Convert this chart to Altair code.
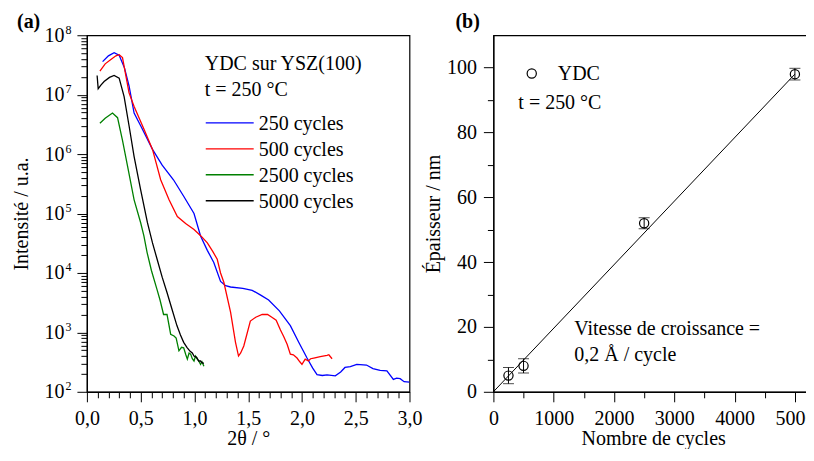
import altair as alt
import pandas as pd

FONT = "Liberation Serif"

# ---------------- panel (a): XRR curves ----------------
series_names = ["250 cycles", "500 cycles", "2500 cycles", "5000 cycles"]
series_colors = ["#0000ff", "#ff0000", "#008000", "#000000"]

x_250 = [0.146, 0.20, 0.253, 0.30, 0.35, 0.392, 0.439, 0.50, 0.61, 0.70, 0.805, 0.90, 0.996,
         1.057, 1.12, 1.18, 1.243, 1.29, 1.336, 1.45, 1.537, 1.62, 1.69, 1.79, 1.892, 1.97,
         2.047, 2.10, 2.14, 2.19, 2.233, 2.31, 2.36, 2.40, 2.45, 2.51, 2.60, 2.66, 2.727,
         2.79, 2.85, 2.88, 2.913, 2.95, 3.0]
i_250 = [3.6e7, 4.5e7, 5.1e7, 4.6e7, 2.8e7, 1.4e7, 4.9e6, 3.0e6, 1.2e6, 6.5e5, 3.7e5, 1.95e5, 1.0e5,
         4.2e4, 2.4e4, 1.5e4, 7.2e3, 6.1e3, 5.8e3, 5.5e3, 5.1e3, 4.2e3, 3.5e3, 2.3e3, 1.3e3, 680,
         370, 250, 195, 188, 193, 186, 215, 257, 265, 290, 282, 245, 229,
         225, 162, 170, 166, 148, 145]

x_500 = [0.121, 0.17, 0.223, 0.27, 0.30, 0.331, 0.36, 0.392, 0.439, 0.532, 0.61, 0.686, 0.764,
         0.841, 0.918, 0.996, 1.06, 1.12, 1.17, 1.212, 1.243, 1.274, 1.336, 1.382, 1.41, 1.43,
         1.459, 1.52, 1.57, 1.63, 1.68, 1.72, 1.76, 1.80, 1.83, 1.862, 1.892, 1.92, 1.954, 1.98,
         2.0, 2.03, 2.06, 2.08, 2.11, 2.17, 2.233, 2.25, 2.28]
i_500 = [2.5e7, 3.3e7, 3.9e7, 4.5e7, 4.7e7, 4.2e7, 2.2e7, 1.07e7, 6.3e6, 2.6e6, 1.2e6, 3.7e5, 1.7e5,
         8.9e4, 6.8e4, 5.4e4, 4.2e4, 3.2e4, 2.3e4, 1.7e4, 1.0e4, 6.9e3, 2.2e3, 680, 400, 450,
         590, 1.55e3, 1.8e3, 2.0e3, 2.0e3, 1.8e3, 1.6e3, 1.1e3, 850, 630, 430, 420, 370, 320,
         290, 355, 330, 360, 370, 390, 410, 420, 360]

x_2500 = [0.121, 0.17, 0.238, 0.285, 0.331, 0.378, 0.439, 0.50, 0.53, 0.56, 0.60, 0.653, 0.68,
          0.713, 0.745, 0.779, 0.81, 0.83, 0.856, 0.88, 0.90, 0.92, 0.934, 0.95, 0.965, 0.98,
          0.996, 1.01, 1.027, 1.04, 1.057, 1.07, 1.088]
i_2500 = [3.3e6, 4.0e6, 4.9e6, 4.1e6, 1.7e6, 6.3e5, 1.7e5, 7.0e4, 4.2e4, 2.2e4, 1.1e4, 5.2e3, 3.5e3,
          2.0e3, 2.0e3, 930, 870, 800, 490, 560, 550, 420, 355, 450, 430, 360,
          330, 400, 355, 330, 290, 320, 270]

x_5000 = [0.095, 0.105, 0.13, 0.16, 0.21, 0.253, 0.30, 0.346, 0.392, 0.439, 0.50, 0.563, 0.61,
          0.653, 0.70, 0.745, 0.79, 0.837, 0.87, 0.90, 0.93, 0.96, 0.98, 0.996, 1.02, 1.04,
          1.057, 1.07, 1.088]
i_5000 = [2.1e7, 1.26e7, 1.45e7, 1.66e7, 1.95e7, 2.1e7, 1.9e7, 9.3e6, 3.0e6, 9.1e5, 2.5e5, 7.0e4, 3.2e4,
          1.7e4, 8.5e3, 4.7e3, 2.5e3, 1.3e3, 900, 680, 560, 480, 450, 400, 380, 330,
          330, 310, 300]

# ---------------- panel (b): thickness vs cycles ----------------
cycles = [250, 500, 2500, 5000]
thickness = [5, 8, 52, 98]
thickness_err = [2.5, 2.2, 1.7, 1.8]
fit_cycles = [0, 5000]
fit_thickness = [0, 98]

# ---------------- build tables ----------------
rows = []
for name, xs, ys in zip(series_names, [x_250, x_500, x_2500, x_5000], [i_250, i_500, i_2500, i_5000]):
    for k, (xv, yv) in enumerate(zip(xs, ys)):
        rows.append({"serie": name, "x": xv, "I": yv, "k": k})
df_a = pd.DataFrame(rows)

df_b = pd.DataFrame({"n": cycles, "e": thickness, "err": thickness_err})
df_fit = pd.DataFrame({"n": fit_cycles, "e": fit_thickness})

W_A, H = 323, 357
W_B = 320
XA_MAX, YA_MIN, YA_MAX = 3.0, 1e2, 1e8
XB_MAX, YB_MAX = 5300, 110

xs_a = alt.Scale(domain=[0, XA_MAX], nice=False, zero=False)
ys_a = alt.Scale(type="log", domain=[YA_MIN, YA_MAX], nice=False)
xs_b = alt.Scale(domain=[0, XB_MAX], nice=False, zero=False)
ys_b = alt.Scale(domain=[0, YB_MAX], nice=False, zero=False)

# pixel offsets inside a panel -> data coordinates (for annotations only)
def pa(px, py):
    return px / W_A * XA_MAX, 10 ** (8 - py / H * 6)

def pb(px, py):
    return px / W_B * XB_MAX, YB_MAX * (1 - py / H)

MAJ, MIN = 10, 6
TITLE_PAD_X = 0

def minor_axis(values, orient):
    return alt.Axis(values=values, orient=orient, tickSize=MIN, labels=False, domain=False,
                    grid=False, title=None)

xa_major = [0.0, 0.5, 1.0, 1.5, 2.0, 2.5, 3.0]
xa_minor = [round(i * 0.1, 1) for i in range(31) if i % 5 != 0]
ya_major = [10 ** k for k in range(2, 9)]
ya_minor = [m * 10 ** k for k in range(2, 8) for m in range(2, 10)]

axis_xa = alt.Axis(values=xa_major, title="2θ / °", grid=False, labelFlush=False, labelOverlap=False,
                   labelExpr="replace(format(datum.value, '.1f'), '.', ',')",
                   tickSize=MAJ, labelPadding=7, titlePadding=TITLE_PAD_X, orient="bottom")
axis_ya = alt.Axis(values=ya_major, title="Intensité / u.a.", grid=False, labelFlush=False, labelOverlap=False,
                   labelExpr="'10'", tickSize=MAJ,
                   labelPadding=13, titlePadding=12, orient="left", labelBaseline="middle")
axis_ya_exp = alt.Axis(values=ya_major, title=None, grid=False, labelFlush=False, labelOverlap=False,
                       labelExpr="format(round(log(datum.value)/LN10), 'd')", tickSize=MAJ, tickOpacity=0,
                       domain=False, labelFontSize=12, labelPadding=6, labelOffset=-6, orient="left",
                       labelBaseline="middle")

lines = alt.Chart(df_a).mark_line(strokeWidth=1.3, clip=True).encode(
    x=alt.X("x:Q", scale=xs_a, axis=axis_xa),
    y=alt.Y("I:Q", scale=ys_a, axis=axis_ya),
    color=alt.Color("serie:N", scale=alt.Scale(domain=series_names, range=series_colors), legend=None),
    order="k:Q",
)
ghost_a = alt.Chart(df_a).mark_point(opacity=0)
exp_layer = ghost_a.encode(x=alt.X("x:Q", scale=xs_a, axis=None), y=alt.Y("I:Q", scale=ys_a, axis=axis_ya_exp))
yminor_a = ghost_a.encode(x=alt.X("x:Q", scale=xs_a, axis=None),
                          y=alt.Y("I:Q", scale=ys_a, axis=minor_axis(ya_minor, "left")))
xminor_a = ghost_a.encode(y=alt.Y("I:Q", scale=ys_a, axis=None),
                          x=alt.X("x:Q", scale=xs_a, axis=minor_axis(xa_minor, "bottom")))

def txt(s, pos, xs, ys, weight="normal"):
    return alt.Chart(pd.DataFrame({"t": [s], "px": [pos[0]], "py": [pos[1]]})).mark_text(
        align="left", baseline="middle", font=FONT, fontSize=20, fontWeight=weight, color="black"
    ).encode(x=alt.X("px:Q", scale=xs, axis=None), y=alt.Y("py:Q", scale=ys, axis=None), text="t:N")

layers_a = [lines, exp_layer, yminor_a, xminor_a,
            txt("(a)", pa(-70, -13), xs_a, ys_a, weight="bold"),
            txt("YDC sur YSZ(100)", pa(118, 29), xs_a, ys_a),
            txt("t = 250 °C", pa(118, 55), xs_a, ys_a)]
for i, (name, col) in enumerate(zip(series_names, series_colors)):
    yy = 87.7 + i * 26
    (x1, y1), (x2, _) = pa(119, yy), pa(167, yy)
    layers_a.append(
        alt.Chart(pd.DataFrame({"x1": [x1], "x2": [x2], "y": [y1]})).mark_rule(color=col, strokeWidth=1.3).encode(
            x=alt.X("x1:Q", scale=xs_a, axis=None), x2="x2:Q", y=alt.Y("y:Q", scale=ys_a, axis=None))
    )
    layers_a.append(txt(name, pa(172, yy + 1), xs_a, ys_a))

panel_a = alt.layer(*layers_a).resolve_axis(x="independent", y="independent").properties(width=W_A, height=H)

# ---------------- panel (b) ----------------
xb_major = [0, 1000, 2000, 3000, 4000, 5000]
xb_minor = [500, 1500, 2500, 3500, 4500]
yb_major = [0, 20, 40, 60, 80, 100]
yb_minor = [10, 30, 50, 70, 90]

axis_xb = alt.Axis(values=xb_major, title="Nombre de cycles", grid=False, format="d",
                   labelFlush=False, labelOverlap=False, tickSize=MAJ,
                   labelPadding=7, titlePadding=TITLE_PAD_X, orient="bottom")
axis_yb = alt.Axis(values=yb_major, title="Épaisseur / nm", grid=False,
                   labelFlush=False, labelOverlap=False, tickSize=MAJ,
                   labelPadding=7, titlePadding=3, orient="left")

fit = alt.Chart(df_fit).mark_line(color="black", strokeWidth=1).encode(
    x=alt.X("n:Q", scale=xs_b, axis=axis_xb),
    y=alt.Y("e:Q", scale=ys_b, axis=axis_yb),
)
ghost_b = alt.Chart(df_fit).mark_point(opacity=0)
yminor_b = ghost_b.encode(x=alt.X("n:Q", scale=xs_b, axis=None),
                          y=alt.Y("e:Q", scale=ys_b, axis=minor_axis(yb_minor, "left")))
xminor_b = ghost_b.encode(y=alt.Y("e:Q", scale=ys_b, axis=None),
                          x=alt.X("n:Q", scale=xs_b, axis=minor_axis(xb_minor, "bottom")))

base_b = alt.Chart(df_b).transform_calculate(lo="datum.e - datum.err", hi="datum.e + datum.err")
bars = base_b.mark_rule(color="black", strokeWidth=1).encode(
    x=alt.X("n:Q", scale=xs_b, axis=None), y=alt.Y("lo:Q", scale=ys_b, axis=None), y2="hi:Q")
cap_lo = base_b.mark_tick(color="black", orient="horizontal", size=11, thickness=1).encode(
    x=alt.X("n:Q", scale=xs_b, axis=None), y=alt.Y("lo:Q", scale=ys_b, axis=None))
cap_hi = base_b.mark_tick(color="black", orient="horizontal", size=11, thickness=1).encode(
    x=alt.X("n:Q", scale=xs_b, axis=None), y=alt.Y("hi:Q", scale=ys_b, axis=None))
pts = base_b.mark_point(shape="circle", filled=False, size=85, color="black", strokeWidth=1.2, opacity=1).encode(
    x=alt.X("n:Q", scale=xs_b, axis=None), y=alt.Y("e:Q", scale=ys_b, axis=None))

lx, ly = pb(38.4, 38.3)
leg_pt = alt.Chart(pd.DataFrame({"px": [lx], "py": [ly]})).mark_point(
    shape="circle", filled=False, size=85, color="black", strokeWidth=1.2, opacity=1
).encode(x=alt.X("px:Q", scale=xs_b, axis=None), y=alt.Y("py:Q", scale=ys_b, axis=None))

panel_b = alt.layer(
    fit, yminor_b, xminor_b, bars, cap_lo, cap_hi, pts, leg_pt,
    txt("(b)", pb(-38, -13), xs_b, ys_b, weight="bold"),
    txt("YDC", pb(64.4, 39), xs_b, ys_b),
    txt("t = 250 °C", pb(25, 68), xs_b, ys_b),
    txt("Vitesse de croissance =", pb(81, 294), xs_b, ys_b),
    txt("0,2 Å / cycle", pb(81, 320), xs_b, ys_b),
).resolve_axis(x="independent", y="independent").properties(width=W_B, height=H)

chart = alt.hconcat(panel_a, panel_b, spacing=84, bounds="flush").properties(
    padding={"left": 3, "top": 3, "right": -10, "bottom": -1}, background="white"
).configure_axis(
    labelFont=FONT, titleFont=FONT, labelFontSize=20, titleFontSize=20, titleFontWeight="normal",
    labelColor="black", titleColor="black", tickColor="black", domainColor="black",
    tickWidth=1, domainWidth=1.2,
).configure_view(stroke="black", strokeWidth=1.2)

chart.save("out.html", embed_options={"renderer": "svg", "actions": False})
